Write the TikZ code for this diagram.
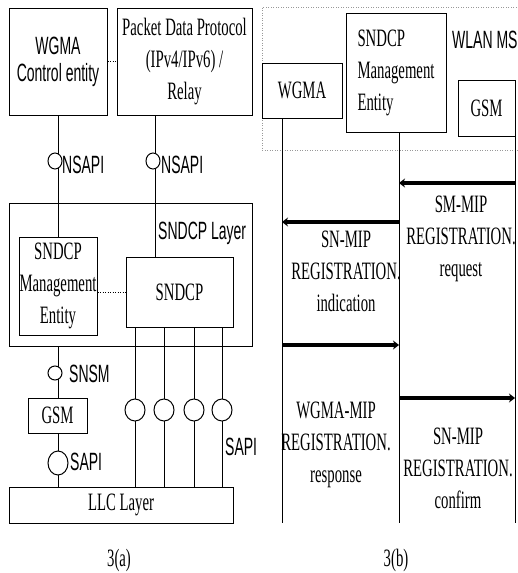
\documentclass[tikz,border=0pt]{standalone}
\usepackage{fontspec}
\newfontfamily\serifn[FakeStretch=0.59]{Liberation Serif}
\newfontfamily\sansn[FakeStretch=0.56]{Liberation Sans}
\usetikzlibrary{arrows.meta,shapes.geometric}
\begin{document}
\begin{tikzpicture}[x=1pt,y=-1pt,
  box/.style={draw, line width=1pt, inner sep=0pt, align=center},
  sf/.style={font=\sansn\fontsize{25}{27}\selectfont},
  rm/.style={font=\serifn\fontsize{25}{32}\selectfont, align=center, inner sep=0pt},
  oval/.style={draw, ellipse, fill=white, line width=1pt, inner sep=0pt},
  ln/.style={line width=1pt},
  msg/.style={line width=3.5pt, -{Stealth[length=6pt,width=9pt]}},
  lbl/.style={inner sep=0pt, anchor=west},
  dotline/.style={line width=1pt, dash pattern=on 1pt off 1.5pt},
  frame/.style={draw=gray!80, line width=1pt, dash pattern=on 1pt off 1.5pt, inner sep=0pt}
]
\useasboundingbox (0,0) rectangle (518,573);

% ---------- 3(a) ----------
\node[box,sf,minimum width=98pt,minimum height=107pt] (wgmaC) at (58,61.5) {WGMA\\Control entity};
\node[box,rm,minimum width=135pt,minimum height=107pt] (pdp) at (184.5,61.5) {Packet Data Protocol\\(IPv4/IPv6) /\\Relay};
\node[box,minimum width=243pt,minimum height=143pt] (layer) at (130.5,274.5) {};
\node[box,rm,minimum width=78pt,minimum height=98pt] (sme) at (58,286) {SNDCP\\Management\\Entity};
\node[box,rm,minimum width=107pt,minimum height=70pt] (sndcp) at (179.5,292) {SNDCP};
\node[box,rm,minimum width=59pt,minimum height=35pt] (gsm) at (57.5,415.5) {GSM};
\node[box,rm,minimum width=224pt,minimum height=36pt] (llc) at (121,505) {LLC Layer};

\coordinate (pl) at (155,163);
\coordinate (o1) at (135,410);
\coordinate (o2) at (164,410);
\coordinate (o3) at (194,410);
\coordinate (o4) at (222,410);

\draw[ln] (wgmaC.south) -- (sme.north);
\draw[ln] (pdp.south -| pl) -- (sndcp.north -| pl);
\draw[ln] (layer.south -| wgmaC.south) -- (gsm.north -| wgmaC.south);
\draw[ln] (gsm.south -| wgmaC.south) -- (llc.north -| wgmaC.south);
\foreach \o in {o1,o2,o3,o4}
  \draw[ln] (sndcp.south -| \o) -- (llc.north -| \o);

\draw[dotline] (wgmaC.east) -- (pdp.west);
\draw[dotline] (sme.east |- sndcp.west) -- (sndcp.west);

\node[oval,minimum width=14pt,minimum height=16pt] (ovA) at (55,161) {};
\node[oval,minimum width=14pt,minimum height=16pt] (ovB) at (153,161) {};
\node[oval,minimum width=14pt,minimum height=14pt] (ovC) at (55,373) {};
\node[oval,minimum width=20pt,minimum height=24pt] (ovD) at (58,463) {};
\foreach \o in {o1,o2,o3,o4}
  \node[oval,minimum width=20pt,minimum height=22pt] (ov\o) at (\o) {};

\node[lbl,sf] (nsL) at (62,165) {NSAPI};
\node[lbl,sf] (nsR) at (161,165) {NSAPI};
\node[lbl,sf] (snsm) at (69,374) {SNSM};
\node[lbl,sf] (sapiL) at (70,462) {SAPI};
\node[lbl,sf] (sapiR) at (225,447) {SAPI};
\node[lbl,sf] (layerT) at (158,233) {SNDCP Layer};

\node[rm] (capA) at (119,560) {3(a)};

% ---------- 3(b) ----------
\node[frame,minimum width=262pt,minimum height=143pt] (ms) at (393,78.5) {};
\node[box,rm,minimum width=80pt,minimum height=55pt] (wgmaR) at (302,90.5) {WGMA};
\node[box,rm,align=left,minimum width=100pt,minimum height=119pt] (smeR) at (396,72.5) {SNDCP\\Management\\Entity};
\node[box,rm,minimum width=57pt,minimum height=56pt] (gsmR) at (486.5,108) {GSM};
\node[lbl,sf] (wlan) at (452,40) {WLAN MS};

\coordinate (e1) at (282,523);
\coordinate (e2) at (399,523);
\coordinate (e3) at (515,523);
\draw[ln] (wgmaR.south -| e1) -- (e1);
\draw[ln] (smeR.south -| e2) -- (e2);
\draw[ln] (gsmR.south -| e3) -- (e3);

\coordinate (y1) at (0,183);
\coordinate (y2) at (0,222);
\coordinate (y3) at (0,345);
\coordinate (y4) at (0,398);
\draw[msg] (e3 |- y1) -- (e2 |- y1);
\draw[msg] (e2 |- y2) -- (e1 |- y2);
\draw[msg] (e1 |- y3) -- (e2 |- y3);
\draw[msg] (e2 |- y4) -- (e3 |- y4);

\node[rm] (t1) at (461,238.5) {SM-MIP\\REGISTRATION.\\request};
\node[rm] (t2) at (346,271.5) {SN-MIP\\REGISTRATION.\\indication};
\node[rm] (t3) at (336,444.5) {WGMA-MIP\\REGISTRATION.\\response};
\node[rm] (t4) at (458,468) {SN-MIP\\REGISTRATION.\\confirm};

\node[rm] (capB) at (396,560) {3(b)};
\end{tikzpicture}
\end{document}
